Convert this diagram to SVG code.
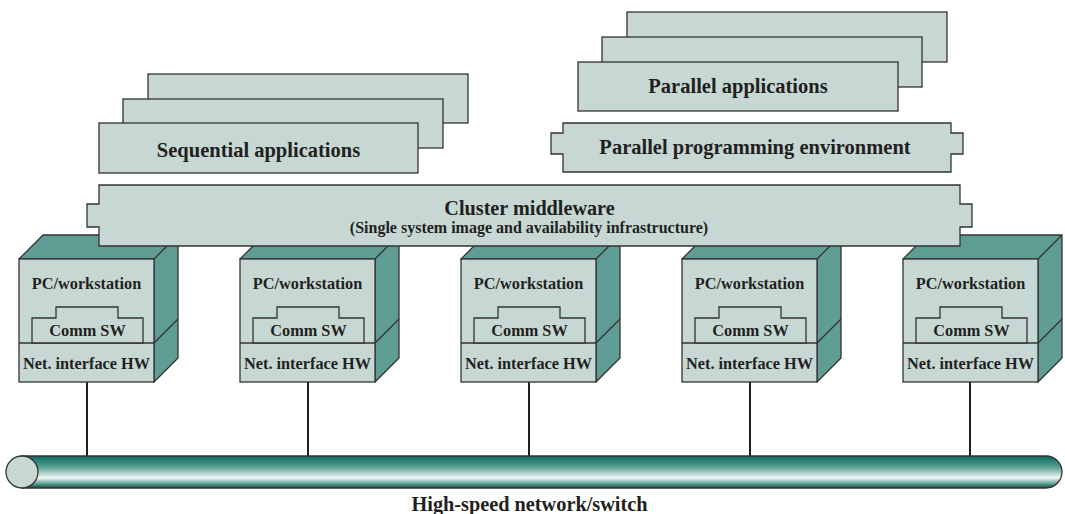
<svg xmlns="http://www.w3.org/2000/svg" width="1065" height="514" viewBox="0 0 1065 514">
<defs>
<style>
.f{fill:#c7d8d4;stroke:#333;stroke-width:1.3}
.t{fill:#5f9c93;stroke:#333;stroke-width:1.3;stroke-linejoin:round}
.ln{stroke:#231f20;stroke-width:2;fill:none}
text{font-family:'Liberation Serif','DejaVu Serif',serif;font-weight:700;fill:#231f20;text-anchor:middle}
.l{font-size:20.5px}
.p{font-size:16.3px}
</style>
<linearGradient id="bus" x1="0" y1="0" x2="0" y2="1">
<stop offset="0" stop-color="#0a6a5b"/>
<stop offset="0.35" stop-color="#5a9f94"/>
<stop offset="0.68" stop-color="#f3f7f5"/>
<stop offset="0.85" stop-color="#6aa79c"/>
<stop offset="1" stop-color="#0b4f44"/>
</linearGradient>
<g id="pc">
<polygon class="t" points="0,24 24,0 159,0 159,123 135,147 135,24"/>
<line x1="135" y1="24" x2="159" y2="0" stroke="#333" stroke-width="1.3"/>
<line x1="135" y1="108" x2="159" y2="84" stroke="#333" stroke-width="1.3"/>
<rect class="f" x="0" y="24" width="135" height="123"/>
<line x1="0" y1="108" x2="135" y2="108" stroke="#333" stroke-width="1.3"/>
<polygon class="f" points="13,108 13,83 37,83 37,72 99,72 99,83 124,83 124,108"/>
<text class="p" x="67.5" y="54">PC/workstation</text>
<text class="p" x="68.5" y="101">Comm SW</text>
<text class="p" x="67.5" y="134">Net. interface HW</text>
</g>
</defs>
<rect width="1065" height="514" fill="#fff"/>
<g id="connectors">
<line class="ln" x1="87" y1="382" x2="87" y2="457"/>
<line class="ln" x1="308" y1="382" x2="308" y2="457"/>
<line class="ln" x1="529" y1="382" x2="529" y2="457"/>
<line class="ln" x1="750" y1="382" x2="750" y2="457"/>
<line class="ln" x1="970" y1="382" x2="970" y2="457"/>
</g>
<g id="pc1"><use href="#pc" x="19" y="235"/></g>
<g id="pc2"><use href="#pc" x="240" y="235"/></g>
<g id="pc3"><use href="#pc" x="461" y="235"/></g>
<g id="pc4"><use href="#pc" x="682" y="235"/></g>
<g id="pc5"><use href="#pc" x="903" y="235"/></g>
<g id="sequential">
<rect class="f" x="148" y="74" width="320" height="49"/>
<rect class="f" x="123" y="99" width="320" height="49"/>
<rect class="f" x="99" y="123" width="319" height="50"/>
<text class="l" x="258.5" y="157">Sequential applications</text>
</g>
<g id="parallel-apps">
<rect class="f" x="627" y="12" width="320" height="50"/>
<rect class="f" x="602" y="37" width="320" height="50"/>
<rect class="f" x="578" y="62" width="320" height="49"/>
<text class="l" x="738" y="93">Parallel applications</text>
</g>
<g id="parallel-env">
<polygon class="f" points="563,123 951,123 951,133 963,133 963,154 951,154 951,172 563,172 563,154 551,154 551,133 563,133"/>
<text class="l" x="755" y="154">Parallel programming environment</text>
</g>
<g id="middleware">
<polygon class="f" points="99,185 960,185 960,204 972,204 972,227 960,227 960,246 99,246 99,227 87,227 87,204 99,204"/>
<text x="529.5" y="215" font-size="20.2">Cluster middleware</text>
<text x="529" y="233" font-size="16">(Single system image and availability infrastructure)</text>
</g>
<g id="network">
<path d="M22,456 H1046 A16,16 0 0 1 1046,488 H22 Z" fill="url(#bus)" stroke="#333" stroke-width="1.3"/>
<circle cx="22" cy="472" r="16" fill="#c7d8d4" stroke="#333" stroke-width="1.3"/>
<text x="529.5" y="511" font-size="20.3">High-speed network/switch</text>
</g>
</svg>
